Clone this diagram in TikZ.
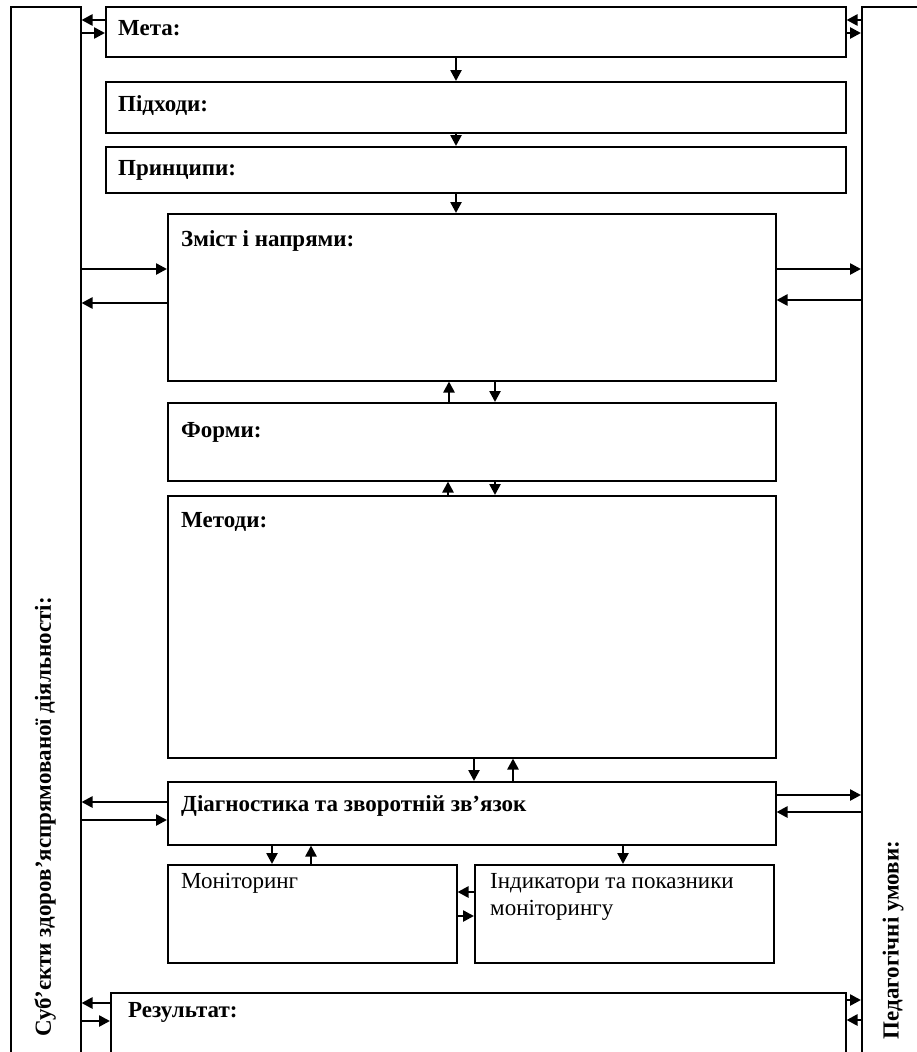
\documentclass[tikz,border=0pt]{standalone}
\usepackage{fontspec}
\setmainfont{Liberation Serif}
\usetikzlibrary{arrows.meta}

\tikzset{
  box/.style={draw, line width=1.5pt, anchor=north west, inner sep=0pt},
  conn/.style={line width=2.5pt, -{Triangle[length=11pt,width=11pt]}},
  ttl/.style={anchor=west, inner sep=0pt, font=\bfseries\fontsize{23}{27}\selectfont},
  txt/.style={anchor=north west, inner sep=0pt, align=left, font=\fontsize{23}{27}\selectfont},
}

\begin{document}
\begin{tikzpicture}[x=1pt,y=-1pt]

\path[use as bounding box, clip] (0,0) rectangle (917,1052);

% outer frames
\node[box, minimum width=70pt, minimum height=1100pt] (subj) at (10,6) {};
\node[box, minimum width=100pt, minimum height=1100pt] (umovy) at (861,6) {};
\node[rotate=90, inner sep=0pt, font=\bfseries\fontsize{23}{27}\selectfont] (subjt) at (45,817) {Суб’єкти здоров’яспрямованої діяльності:};
\node[rotate=90, inner sep=0pt, font=\bfseries\fontsize{23}{27}\selectfont] (umovyt) at (893,940) {Педагогічні умови:};

% boxes
\node[box, minimum width=740pt, minimum height=50pt] (meta) at (105,6) {};
\node[box, minimum width=740pt, minimum height=51pt] (pidh) at (105,81) {};
\node[box, minimum width=740pt, minimum height=46pt] (pryn) at (105,146) {};
\node[box, minimum width=608pt, minimum height=167pt] (zmist) at (167,213) {};
\node[box, minimum width=608pt, minimum height=78pt] (formy) at (167,402) {};
\node[box, minimum width=608pt, minimum height=262pt] (metody) at (167,495) {};
\node[box, minimum width=608pt, minimum height=63pt] (diag) at (167,781) {};
\node[box, minimum width=289pt, minimum height=98pt] (monit) at (167,864) {};
\node[box, minimum width=299pt, minimum height=98pt] (indyk) at (474,864) {};
\node[box, minimum width=735pt, minimum height=100pt] (rezult) at (110,992) {};

% texts
\node[ttl] (metat) at (118,28) {Мета:};
\node[ttl] (pidht) at (118,106) {Підходи:};
\node[ttl] (prynt) at (118,170) {Принципи:};
\node[ttl] (zmistt) at (181,241) {Зміст і напрями:};
\node[ttl] (formyt) at (181,432) {Форми:};
\node[ttl] (metodyt) at (181,522) {Методи:};
\node[ttl] (diagt) at (181,806) {Діагностика та зворотній зв’язок};
\node[txt] (monitt) at (181,873) {Моніторинг};
\node[txt] (indykt) at (490,873) {Індикатори та показники\\моніторингу};
\node[ttl] (rezultt) at (128,1012) {Результат:};

% vertical links
\draw[conn] (meta.south -| 456,0) -- (pidh.north -| 456,0);
\draw[conn] (pidh.south -| 456,0) -- (pryn.north -| 456,0);
\draw[conn] (pryn.south -| 456,0) -- (zmist.north -| 456,0);
\draw[conn] (formy.north -| 449,0) -- (zmist.south -| 449,0);
\draw[conn] (zmist.south -| 495,0) -- (formy.north -| 495,0);
\draw[conn] (metody.north -| 448,0) -- (formy.south -| 448,0);
\draw[conn] (formy.south -| 495,0) -- (metody.north -| 495,0);
\draw[conn] (metody.south -| 474,0) -- (diag.north -| 474,0);
\draw[conn] (diag.north -| 513,0) -- (metody.south -| 513,0);
\draw[conn] (diag.south -| 272,0) -- (monit.north -| 272,0);
\draw[conn] (monit.north -| 311,0) -- (diag.south -| 311,0);
\draw[conn] (diag.south -| 623,0) -- (indyk.north -| 623,0);
\draw[conn] (indyk.west |- 0,892) -- (monit.east |- 0,892);
\draw[conn] (monit.east |- 0,916) -- (indyk.west |- 0,916);

% left side
\draw[conn] (meta.west |- 0,20) -- (subj.east |- 0,20);
\draw[conn] (subj.east |- 0,33) -- (meta.west |- 0,33);
\draw[conn] (subj.east |- 0,269) -- (zmist.west |- 0,269);
\draw[conn] (zmist.west |- 0,303) -- (subj.east |- 0,303);
\draw[conn] (diag.west |- 0,802) -- (subj.east |- 0,802);
\draw[conn] (subj.east |- 0,820) -- (diag.west |- 0,820);
\draw[conn] (rezult.west |- 0,1003) -- (subj.east |- 0,1003);
\draw[conn] (subj.east |- 0,1021) -- (rezult.west |- 0,1021);

% right side
\draw[conn] (umovy.west |- 0,20) -- (meta.east |- 0,20);
\draw[conn] (meta.east |- 0,33) -- (umovy.west |- 0,33);
\draw[conn] (zmist.east |- 0,269) -- (umovy.west |- 0,269);
\draw[conn] (umovy.west |- 0,300) -- (zmist.east |- 0,300);
\draw[conn] (diag.east |- 0,795) -- (umovy.west |- 0,795);
\draw[conn] (umovy.west |- 0,812) -- (diag.east |- 0,812);
\draw[conn] (rezult.east |- 0,1000) -- (umovy.west |- 0,1000);
\draw[conn] (umovy.west |- 0,1020) -- (rezult.east |- 0,1020);

\end{tikzpicture}
\end{document}
